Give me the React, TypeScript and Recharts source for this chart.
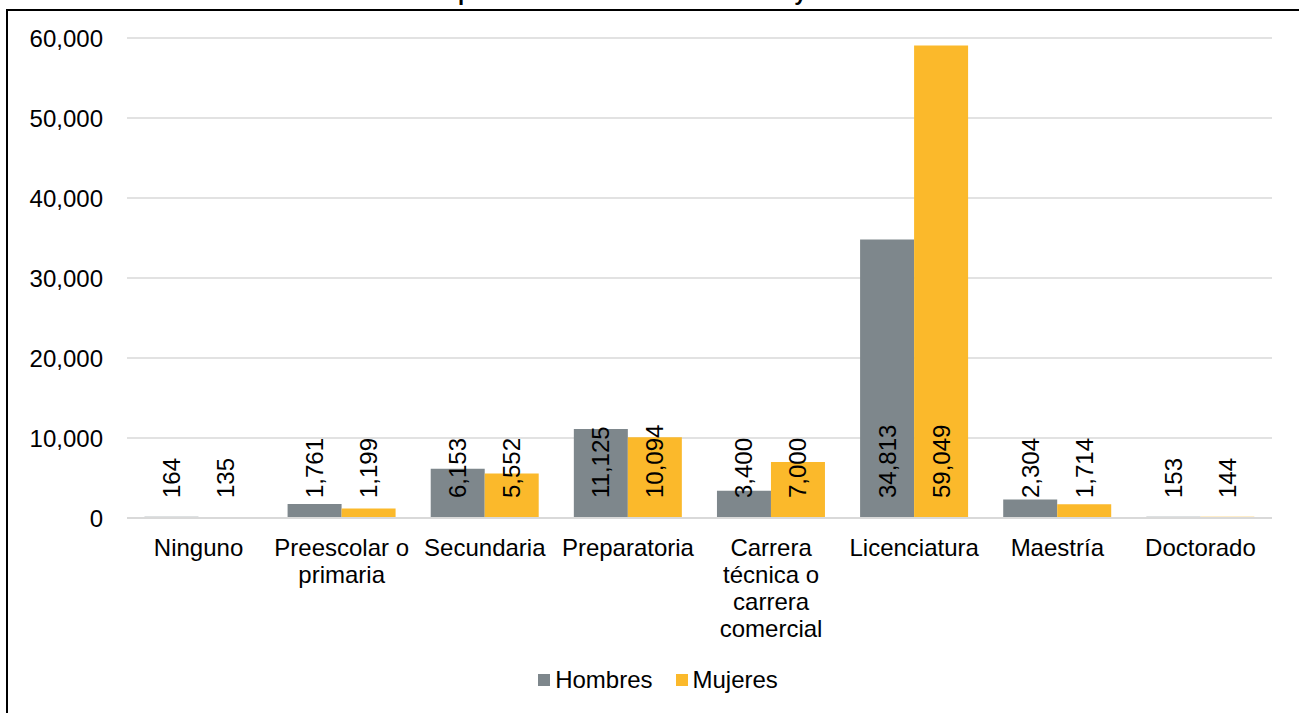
import { BarChart, Bar, XAxis, YAxis, CartesianGrid, Legend, LabelList } from 'recharts';

const categories = [
  'Ninguno',
  'Preescolar o primaria',
  'Secundaria',
  'Preparatoria',
  'Carrera técnica o carrera comercial',
  'Licenciatura',
  'Maestría',
  'Doctorado',
];
const hombres = [164, 1761, 6153, 11125, 3400, 34813, 2304, 153];
const mujeres = [135, 1199, 5552, 10094, 7000, 59049, 1714, 144];
const yTicks = [0, 10000, 20000, 30000, 40000, 50000, 60000];
const title = 'por nivel de estudios concluido y sexo';

const FONT = '"Liberation Sans", Arial, Helvetica, sans-serif';
const GRAY = '#7e878c';
const YELLOW = '#fbb92b';

const data = categories.map((name, i) => ({ name, Hombres: hombres[i], Mujeres: mujeres[i] }));

const fmt = (v: number) => Number(v).toLocaleString('en-US');

let ctx: CanvasRenderingContext2D | null = null;
function measure(s: string) {
  if (!ctx) {
    ctx = document.createElement('canvas').getContext('2d');
    if (ctx) ctx.font = `24px ${FONT}`;
  }
  return ctx ? ctx.measureText(s).width : s.length * 12;
}

// greedy word wrap for the category labels
function wrap(label: string, maxWidth: number) {
  const lines: string[] = [];
  let cur = '';
  for (const w of label.split(' ')) {
    const next = cur ? `${cur} ${w}` : w;
    if (cur && measure(next) > maxWidth) {
      lines.push(cur);
      cur = w;
    } else {
      cur = next;
    }
  }
  if (cur) lines.push(cur);
  return lines;
}

function CategoryTick(props: any) {
  const { x, y, payload } = props;
  const lines = wrap(String(payload.value), 140);
  return (
    <text x={x} y={y} textAnchor="middle" fill="#000" style={{ fontSize: 24, fontFamily: FONT }}>
      {lines.map((l, i) => (
        <tspan key={i} x={x} dy={i === 0 ? 17 : 27}>
          {l}
        </tspan>
      ))}
    </text>
  );
}

// labels sit at the bar base, rotated, like Excel's "inside base"
function BaseLabel(props: any) {
  const vb = props.viewBox || {};
  const x = props.x ?? vb.x;
  const y = props.y ?? vb.y;
  const width = props.width ?? vb.width;
  const height = props.height ?? vb.height;
  const cx = x + width / 2;
  const cy = y + height - 20;
  return (
    <text
      x={cx}
      y={cy}
      transform={`rotate(-90 ${cx} ${cy})`}
      textAnchor="start"
      dominantBaseline="central"
      fill="#000"
      style={{ fontSize: 24, fontFamily: FONT }}
    >
      {fmt(props.value)}
    </text>
  );
}

function LegendContent() {
  const items = [
    { label: 'Hombres', color: GRAY },
    { label: 'Mujeres', color: YELLOW },
  ];
  return (
    <div
      style={{
        display: 'flex',
        justifyContent: 'center',
        alignItems: 'center',
        height: 44,
        paddingLeft: 17,
        paddingBottom: 11,
        fontFamily: FONT,
        fontSize: 24,
        color: '#000',
        gap: 23,
      }}
    >
      {items.map((it) => (
        <div key={it.label} style={{ display: 'flex', alignItems: 'center', gap: 5 }}>
          <span style={{ width: 12, height: 12, background: it.color, display: 'inline-block' }} />
          <span>{it.label}</span>
        </div>
      ))}
    </div>
  );
}

export default function App() {
  return (
    <div style={{ position: 'absolute', left: 0, top: 0, width: 1299, height: 713, overflow: 'hidden', background: '#fff' }}>
      <svg width={1299} height={20} style={{ position: 'absolute', left: 0, top: 0 }}>
        <text x={458} y={0} fill="#000" style={{ fontSize: 22, fontWeight: 'bold', fontFamily: FONT }}>
          {title}
        </text>
      </svg>
      <div
        style={{
          position: 'absolute',
          left: 6,
          top: 9,
          width: 1400,
          height: 800,
          border: '2px solid #000',
        }}
      />
      <div style={{ position: 'absolute', left: 0, top: 0 }}>
        <BarChart
          width={1299}
          height={713}
          data={data}
          margin={{ top: 38, right: 27, bottom: 0, left: 0 }}
          barCategoryGap="12.2%"
          barGap={0}
        >
          <CartesianGrid vertical={false} stroke="#d9d9d9" strokeWidth={1.5} />
          <XAxis
            dataKey="name"
            interval={0}
            height={140}
            tickLine={false}
            tickSize={0}
            tickMargin={21}
            axisLine={{ stroke: '#d9d9d9', strokeWidth: 2 }}
            tick={<CategoryTick />}
          />
          <YAxis
            width={127}
            domain={[0, 60000]}
            ticks={yTicks}
            tickFormatter={fmt}
            axisLine={false}
            tickLine={false}
            tickSize={0}
            tickMargin={24}
            tick={{ fontSize: 24, fontFamily: FONT, fill: '#000' }}
          />
          <Legend verticalAlign="bottom" height={55} wrapperStyle={{ left: 0, width: 1299 }} content={<LegendContent />} />
          <Bar dataKey="Hombres" fill={GRAY} isAnimationActive={false}>
            <LabelList dataKey="Hombres" content={<BaseLabel />} />
          </Bar>
          <Bar dataKey="Mujeres" fill={YELLOW} isAnimationActive={false}>
            <LabelList dataKey="Mujeres" content={<BaseLabel />} />
          </Bar>
        </BarChart>
      </div>
    </div>
  );
}
